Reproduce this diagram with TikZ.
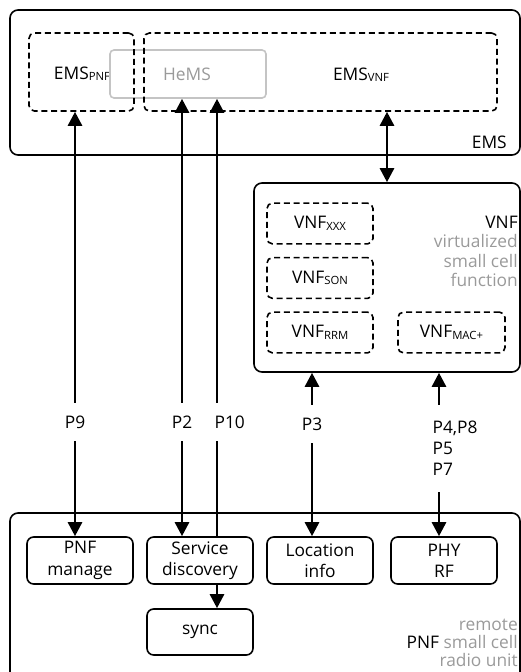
\documentclass[tikz,border=0pt]{standalone}
\usepackage{fontspec}
\setmainfont{Open Sans}
\usetikzlibrary{arrows.meta}
\pgfdeclarelayer{bg}
\pgfsetlayers{bg,main}
\definecolor{softgray}{HTML}{9A9A9A}
\definecolor{boxgray}{HTML}{C4C4C4}
% small lowered index after a function name
\newcommand\subtag[1]{\raisebox{-1.2pt}{\fontsize{8.5}{9}\selectfont #1}}

\begin{document}
\begin{tikzpicture}[x=0.75pt,y=-0.75pt,
  every node/.style={font=\fontsize{13}{16}\selectfont, inner sep=0pt},
  frame/.style={draw, line width=1.2pt, rounded corners=6pt},
  dashbox/.style={draw, line width=1.2pt, dash pattern=on 4.5pt off 2.8pt, rounded corners=4pt},
  unit/.style={draw, fill=white, line width=1.2pt, rounded corners=5pt,
    minimum width=79.5pt, minimum height=35.25pt, align=center},
  vnfbox/.style={dashbox, minimum width=79.5pt, minimum height=30.5pt},
  link/.style={line width=2pt,
    {Triangle[width=10.5pt,length=10.5pt]}-{Triangle[width=10.5pt,length=10.5pt]}},
  plabel/.style={fill=white, inner xsep=1pt, minimum height=28.5pt},
  note/.style={anchor=base east, text=softgray},
]
\useasboundingbox (0,0) rectangle (521,672);
\clip (0,0) rectangle (521,672);

% ---------- EMS ----------
\node[frame, minimum width=382.5pt, minimum height=108.75pt] (ems) at (265,82.5) {};
\node[anchor=base east] (emslbl) at (507,148) {EMS};
\node[anchor=base] (emsptxt) at (82,79) {EMS\subtag{PNF}};
\node[draw=boxgray, fill=white, line width=1.2pt, rounded corners=3pt,
      minimum width=117pt, minimum height=36pt] (hems) at (188,74) {};
\node[anchor=base, text=softgray] (hemstxt) at (187,80) {HeMS};
\node[dashbox, minimum width=78.75pt, minimum height=58.5pt] (emsp) at (81.5,72) {};
\node[dashbox, minimum width=264.75pt, minimum height=58.5pt] (emsv) at (320.5,72) {};
\node[anchor=base] (emsvtxt) at (361,80) {EMS\subtag{VNF}};

% ---------- VNF ----------
\node[frame, minimum width=199.5pt, minimum height=141.75pt] (vnf) at (387,277.5) {};
\node[vnfbox] (vxxx) at (320,223.5) {VNF\subtag{XXX}};
\node[vnfbox] (vson) at (320,278) {VNF\subtag{SON}};
\node[vnfbox] (vrrm) at (320,332.5) {VNF\subtag{RRM}};
\node[vnfbox, minimum width=80.25pt] (vmac) at (451.5,332.5) {VNF\subtag{MAC+}};
\node[anchor=base east] (vnft1) at (518,228) {VNF};
\node[note] (vnft2) at (518,247.5) {virtualized};
\node[note] (vnft3) at (518,267) {small cell};
\node[note] (vnft4) at (518,286.5) {function};

% ---------- PNF ----------
\node[frame, minimum width=382.5pt, minimum height=140.25pt] (pnf) at (265,606.5) {};
\node[unit] (pnfm) at (80,560.5) {PNF\\manage};
\node[unit] (sd) at (200,560.5) {Service\\discovery};
\node[unit] (loc) at (320,560.5) {Location\\info};
\node[unit] (phy) at (444,560.5) {PHY\\RF};
\node[unit, minimum height=34.5pt] (sync) at (200,632) {sync};
\node[note] (pnft1) at (518,630) {remote};
\node[note] (pnft2) at (518,648) {\textcolor{black}{PNF} small cell};
\node[note] (pnft3) at (518,666) {radio unit};

% ---------- interfaces ----------
\coordinate (c9) at (75,0);
\coordinate (c2) at (182,0);
\coordinate (c10) at (217,0);
\coordinate (cv) at (387,0);
\coordinate (c3) at (312,0);
\coordinate (c4) at (439,0);

\begin{pgfonlayer}{bg}
  \draw[link] (emsp.south -| c9) -- (pnfm.north -| c9);
  \draw[link] (hems.south -| c2) -- (sd.north -| c2);
  \draw[link] (hems.south -| c10) -- (sync.north -| c10);
  \draw[link] (emsv.south -| cv) -- (vnf.north -| cv);
  \draw[link] (vnf.south -| c3) -- (loc.north -| c3);
  \draw[link] (vnf.south -| c4) -- (phy.north -| c4);
\end{pgfonlayer}

\node[plabel] (p9) at (75,422) {P9};
\node[plabel] (p2) at (182,422) {P2};
\node[plabel, anchor=west] (p10) at (213,422) {P10};
\node[plabel] (p3) at (312,424) {P3};
\node[plabel, anchor=west, align=left, minimum height=65pt,
      font=\fontsize{13}{15.75}\selectfont] (p4) at (431,448.5) {P4,P8\\P5\\P7};
\end{tikzpicture}
\end{document}
